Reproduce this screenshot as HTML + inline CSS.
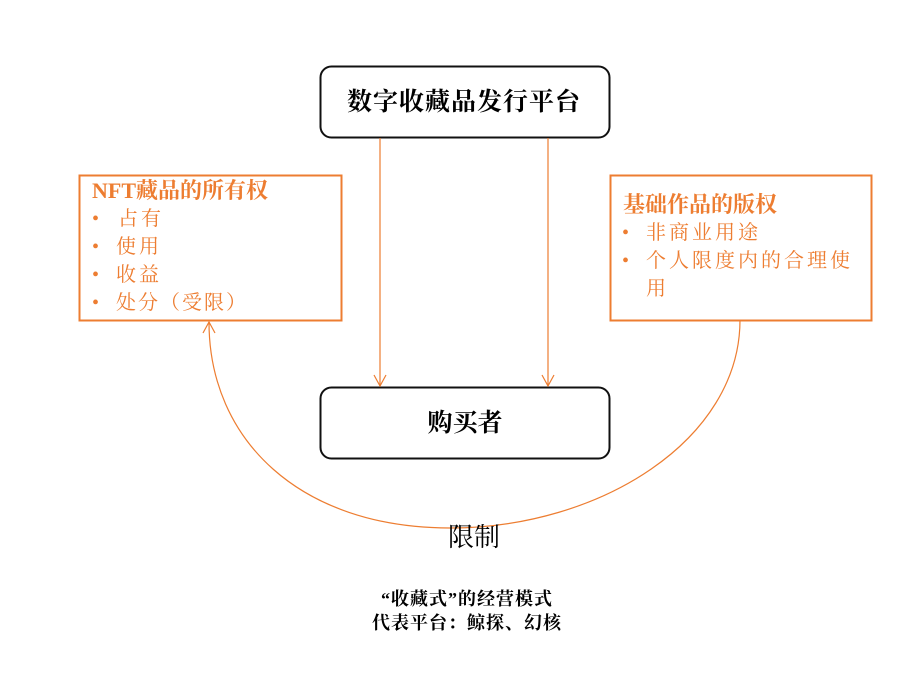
<!DOCTYPE html>
<html><head><meta charset="utf-8"><style>
body{margin:0;background:#fff;}
svg{display:block}
.k{font-family:"Liberation Serif","Noto Serif CJK SC",serif;}
</style></head><body>
<svg width="909" height="678" xmlns="http://www.w3.org/2000/svg" class="k">
<rect x="0" y="0" width="909" height="678" fill="#fff"/>
<rect x="320.5" y="66.5" width="289" height="71" rx="11" fill="#fff" stroke="#111" stroke-width="2"/>
<text x="464" y="110" text-anchor="middle" font-size="25" font-weight="bold" fill="#000" letter-spacing="1">数字收藏品发行平台</text>
<rect x="320.5" y="387.5" width="289" height="71" rx="11" fill="#fff" stroke="#111" stroke-width="2"/>
<text x="465" y="431" text-anchor="middle" font-size="25" font-weight="bold" fill="#000">购买者</text>
<g stroke="#ED7D31" stroke-width="1.2" fill="none">
<line x1="380" y1="138" x2="380" y2="386"/><polyline points="374,375 380,386 386,375"/>
<line x1="548" y1="138" x2="548" y2="386"/><polyline points="542,375 548,386 554,375"/>
<path d="M740,320 C740,440 600,528 450,528 C300,528 209,440 209,322"/>
<polyline points="203,333 209,322 215,333"/>
</g>
<rect x="79.5" y="175.5" width="262" height="145" fill="#fff" stroke="#ED7D31" stroke-width="2"/>
<g fill="#ED7D31" font-size="20">
<text x="92" y="198" font-weight="bold" font-size="22">NFT藏品的所有权</text>
<text x="92" y="225">•</text><text x="118" y="225" letter-spacing="3">占有</text>
<text x="92" y="253">•</text><text x="116" y="253" letter-spacing="3">使用</text>
<text x="92" y="281">•</text><text x="116" y="281" letter-spacing="3">收益</text>
<text x="92" y="309">•</text><text x="116" y="309" letter-spacing="2">处分（受限）</text>
</g>
<rect x="610.5" y="175.5" width="261" height="145" fill="#fff" stroke="#ED7D31" stroke-width="2"/>
<g fill="#ED7D31" font-size="20">
<text x="623" y="212" font-weight="bold" font-size="22">基础作品的版权</text>
<text x="622" y="239">•</text><text x="646" y="239" letter-spacing="3">非商业用途</text>
<text x="622" y="267">•</text><text x="646" y="267" letter-spacing="3">个人限度内的合理使</text>
<text x="646" y="295">用</text>
</g>
<text x="474" y="546" text-anchor="middle" font-size="26" fill="#000">限制</text>
<text x="467" y="605" text-anchor="middle" font-size="18" font-weight="bold" fill="#000" letter-spacing="1">“收藏式”的经营模式</text>
<text x="467" y="629" text-anchor="middle" font-size="18" font-weight="bold" fill="#000" letter-spacing="1">代表平台：鲸探、幻核</text>
</svg>
</body></html>
